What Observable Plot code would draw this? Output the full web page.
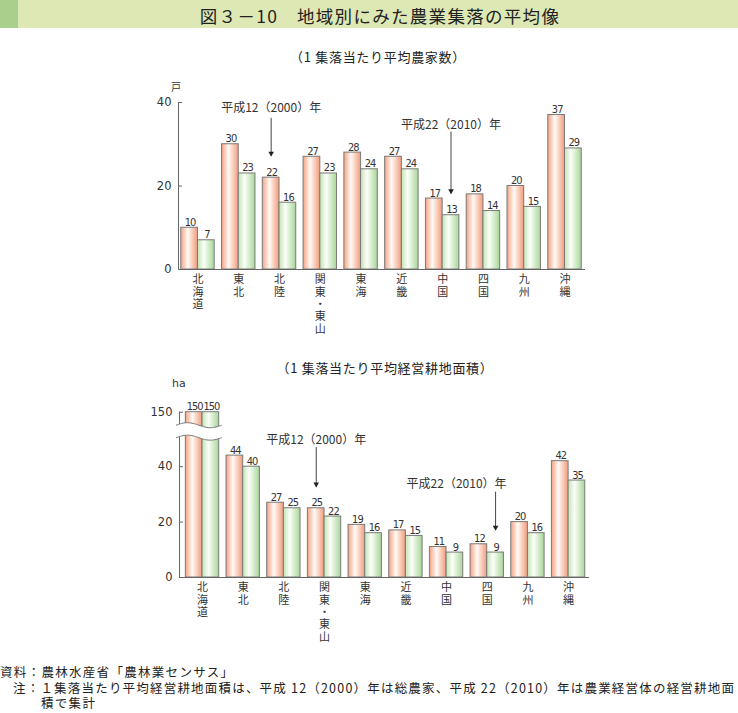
<!DOCTYPE html>
<html><head><meta charset="utf-8">
<script src="https://cdn.jsdelivr.net/npm/d3@7"></script>
<script src="https://cdn.jsdelivr.net/npm/@observablehq/plot@0.6"></script>
<style>
body{margin:0;background:#fff;}
#root{position:relative;width:738px;height:713px;overflow:hidden;font-family:"Noto Sans CJK JP","Noto Sans",sans-serif;color:#333;}
.abs{position:absolute;white-space:nowrap;}
.chart{position:absolute;left:0;}
</style></head><body><div id="root">
<div class="abs" style="left:0;top:0;width:738px;height:28px;background:#dde8b4"></div>
<div class="abs" style="left:0;top:0;width:18px;height:28px;background:#a8d08c"></div>
<div class="abs" style="left:0;top:7px;width:760px;text-align:center;font-size:17.5px;line-height:18px;color:#222;letter-spacing:1.3px">図３－10　地域別にみた農業集落の平均像</div>
<div class="abs" style="left:0;top:50px;width:756px;text-align:center;font-size:13px;line-height:13px;color:#222;letter-spacing:0.7px">（1 集落当たり平均農家数）</div>
<div class="abs" style="left:171px;top:82px;font-size:10px;line-height:10px;color:#333">戸</div>
<div class="chart" id="c1" style="top:80px"></div>
<div class="abs" style="left:0;top:361px;width:770px;text-align:center;font-size:13px;line-height:13px;color:#222;letter-spacing:0.7px">（1 集落当たり平均経営耕地面積）</div>
<div class="abs" style="left:172px;top:378px;font-family:'DejaVu Sans',sans-serif;font-size:11px;line-height:11px;color:#333">ha</div>
<div class="chart" id="c2" style="top:375px"></div>
<div class="abs" style="left:0;top:665px;font-size:12.5px;line-height:13px;color:#222;letter-spacing:1.3px">資料：農林水産省「農林業センサス」</div>
<div class="abs" style="left:13px;top:681px;font-size:12.5px;line-height:13px;color:#222;letter-spacing:1.2px">注：１集落当たり平均経営耕地面積は、平成 12（2000）年は総農家、平成 22（2010）年は農業経営体の経営耕地面</div>
<div class="abs" style="left:41px;top:696px;font-size:12.5px;line-height:13px;color:#222;letter-spacing:1.3px">積で集計</div>
</div>
<script>
// ---- data ----
const regions = ["北海道","東北","北陸","関東・東山","東海","近畿","中国","四国","九州","沖縄"];
const regionLabels = ["北\n海\n道","東\n北","北\n陸","関\n東\n・\n東\n山","東\n海","近\n畿","中\n国","四\n国","九\n州","沖\n縄"];
const farms2000 = [10, 30, 22, 27, 28, 27, 17, 18, 20, 37];
const farms2010 = [7, 23, 16, 23, 24, 24, 13, 14, 15, 29];
const area2000 = [150, 44, 27, 25, 19, 17, 11, 12, 20, 42];
const area2010 = [150, 40, 25, 22, 16, 15, 9, 9, 16, 35];
const farmTicks = [0, 20, 40];
const farmTickLabels = ["0", "20", "40"];
const areaTicks = [0, 20, 40, 150];
const areaTickLabels = ["0", "20", "40", "150"];
const farmNotes = [
  {label: "平成12（2000）年", region: "北陸", series: "2000", textY: 38.6, from: 36.2, to: 27.1, shift: 0},
  {label: "平成22（2010）年", region: "中国", series: "2010", textY: 34.5, from: 32.9, to: 18.1, shift: 0}
];
const areaNotes = [
  {label: "平成12（2000）年", region: "関東・東山", series: "2000", textY: 49.5, from: 46.9, to: 32.6, shift: 0},
  {label: "平成22（2010）年", region: "四国", series: "2010", textY: 33.8, from: 30.8, to: 17.0, shift: -39}
];

const NARROW = "'Liberation Sans Narrow','DejaVu Sans Condensed',sans-serif";
const TICKFONT = "'DejaVu Sans',sans-serif";
const INK = "#333";
const AXIS = "#666";

function bandGeom(W, n, pi, po, align) {
  const step = W / (n - pi + 2 * po);
  const bw = step * (1 - pi);
  const off = (W - step * (n - pi)) * align;
  return {step, bw, off};
}

function addDefs(svg, id) {
  d3.select(svg).insert("defs", ":first-child").html(`
    <linearGradient id="${id}o" x1="0" x2="1" y1="0" y2="0">
      <stop offset="0" stop-color="#f4a283"/>
      <stop offset="0.42" stop-color="#fffaf6"/>
      <stop offset="1" stop-color="#f29c7a"/>
    </linearGradient>
    <linearGradient id="${id}g" x1="0" x2="1" y1="0" y2="0">
      <stop offset="0" stop-color="#c3e3b5"/>
      <stop offset="0.38" stop-color="#fbfff8"/>
      <stop offset="1" stop-color="#a8d699"/>
    </linearGradient>`);
  // condense the bar value labels (narrow face is not always available)
  d3.select(svg).selectAll("text").filter(function() {
    const f = this.getAttribute("font-family") || (this.parentNode && this.parentNode.getAttribute && this.parentNode.getAttribute("font-family")) || "";
    return f.includes("Narrow");
  }).style("letter-spacing", "-1px");
}

function makeChart(cfg) {
  const {id, width, height, marginTop, marginBottom, marginLeft, marginRight, y, v2000, v2010,
         ticks, tickLabels, notes, pi, po, align, yTop} = cfg;
  const W = width - marginLeft - marginRight;
  const g = bandGeom(W, regions.length, pi, po, align);
  const rows = regions.map((r, i) => ({region: r, label: regionLabels[i], v2000: v2000[i], v2010: v2010[i]}));
  const half = g.bw / 2, q = g.bw / 4;
  const noteMarks = notes.flatMap(n => {
    const dx = n.series === "2000" ? -q : q;
    return [
      Plot.ruleX([n], {x: "region", y1: "from", y2: "to", dx, stroke: "#444", strokeWidth: 1}),
      Plot.dot([n], {x: "region", y: "to", dx, dy: -3, symbol: "triangle", rotate: 180, r: 2.1, fill: "#222", stroke: "none"}),
      Plot.text([n], {x: "region", y: "textY", text: "label", dx: dx + n.shift, fontSize: 12, fill: INK})
    ];
  });
  const svg = Plot.plot({
    width, height, marginTop, marginBottom, marginLeft, marginRight,
    style: {fontFamily: "'Noto Sans CJK JP','Noto Sans',sans-serif", fontSize: "12px", background: "transparent", overflow: "visible"},
    x: {domain: regions, paddingInner: pi, paddingOuter: po, align, round: false, axis: null},
    y: {...y, axis: null},
    marks: [
      Plot.barY(rows, {x: "region", y: "v2000", insetLeft: 0, insetRight: half, fill: `url(#${id}o)`, stroke: "#7a7a7a", strokeWidth: 1}),
      Plot.barY(rows, {x: "region", y: "v2010", insetLeft: half, insetRight: 0, fill: `url(#${id}g)`, stroke: "#7a7a7a", strokeWidth: 1}),
      Plot.text(rows, {x: "region", y: "v2000", text: d => String(d.v2000), dx: -q + 0.5, dy: -2, lineAnchor: "bottom", fontFamily: NARROW, fontSize: 11, fill: INK}),
      Plot.text(rows, {x: "region", y: "v2010", text: d => String(d.v2010), dx: q + 0.5, dy: -2, lineAnchor: "bottom", fontFamily: NARROW, fontSize: 11, fill: INK}),
      Plot.ruleY([0], {stroke: AXIS, strokeWidth: 1}),
      Plot.ruleX([regions[0]], {x: d => d, y1: 0, y2: yTop, dx: -(g.off + half), stroke: AXIS, strokeWidth: 1}),
      Plot.ruleY(ticks, {y: d => d, insetRight: W - 4, stroke: AXIS, strokeWidth: 1}),
      Plot.text(ticks, {y: d => d, text: (d, i) => tickLabels[i], frameAnchor: "left", textAnchor: "end", dx: -7, fontFamily: TICKFONT, fontSize: 11.5, fill: INK}),
      Plot.text(rows, {x: "region", text: "label", frameAnchor: "bottom", lineAnchor: "top", dy: 5, lineHeight: 1.12, fontSize: 11, fill: INK}),
      ...noteMarks
    ]
  });
  addDefs(svg, id);
  return {svg, g};
}

// Chart 1: farms per settlement
const c1 = makeChart({
  id: "a", width: 738, height: 255, marginTop: 22, marginBottom: 66, marginLeft: 178, marginRight: 153,
  y: {domain: [0, 40]}, v2000: farms2000, v2010: farms2010, ticks: farmTicks, tickLabels: farmTickLabels,
  notes: farmNotes, pi: 0.18, po: 0.08, align: 0.42, yTop: 40
});
document.getElementById("c1").appendChild(c1.svg);

// Chart 2: cultivated area per settlement (broken axis)
const c2 = makeChart({
  id: "b", width: 738, height: 270, marginTop: 37, marginBottom: 68, marginLeft: 179, marginRight: 149,
  y: {type: "linear", domain: [0, 55, 150], range: [202, 49.65, 36.7]}, v2000: area2000, v2010: area2010,
  ticks: areaTicks, tickLabels: areaTickLabels, notes: areaNotes, pi: 0.18, po: 0.13, align: 0.6, yTop: 150
});
document.getElementById("c2").appendChild(c2.svg);

// axis break decoration drawn with the chart's own scales
(function drawBreak(svg) {
  const xs = svg.scale("x"), ys = svg.scale("y");
  const xStart = xs.apply(regions[0]);
  const x0 = 179 - 3, x1 = xStart + xs.bandwidth + 3;
  const yA = ys.apply(54.8), yB = ys.apply(50.3);
  const A = 2.5, N = 40;
  const wave = yc => d3.range(N + 1).map(k => {
    const t = k / N;
    return [x0 + t * (x1 - x0), yc - A * Math.sin(2 * Math.PI * t)];
  });
  const top = wave(yA), bot = wave(yB);
  const line = d3.line();
  const g = d3.select(svg).append("g");
  g.append("path").attr("d", line(top.concat(bot.slice().reverse())) + "Z").attr("fill", "#fff").attr("stroke", "none");
  g.append("path").attr("d", line(top)).attr("fill", "none").attr("stroke", "#777").attr("stroke-width", 1);
  g.append("path").attr("d", line(bot)).attr("fill", "none").attr("stroke", "#777").attr("stroke-width", 1);
})(c2.svg);
</script>
</body></html>
